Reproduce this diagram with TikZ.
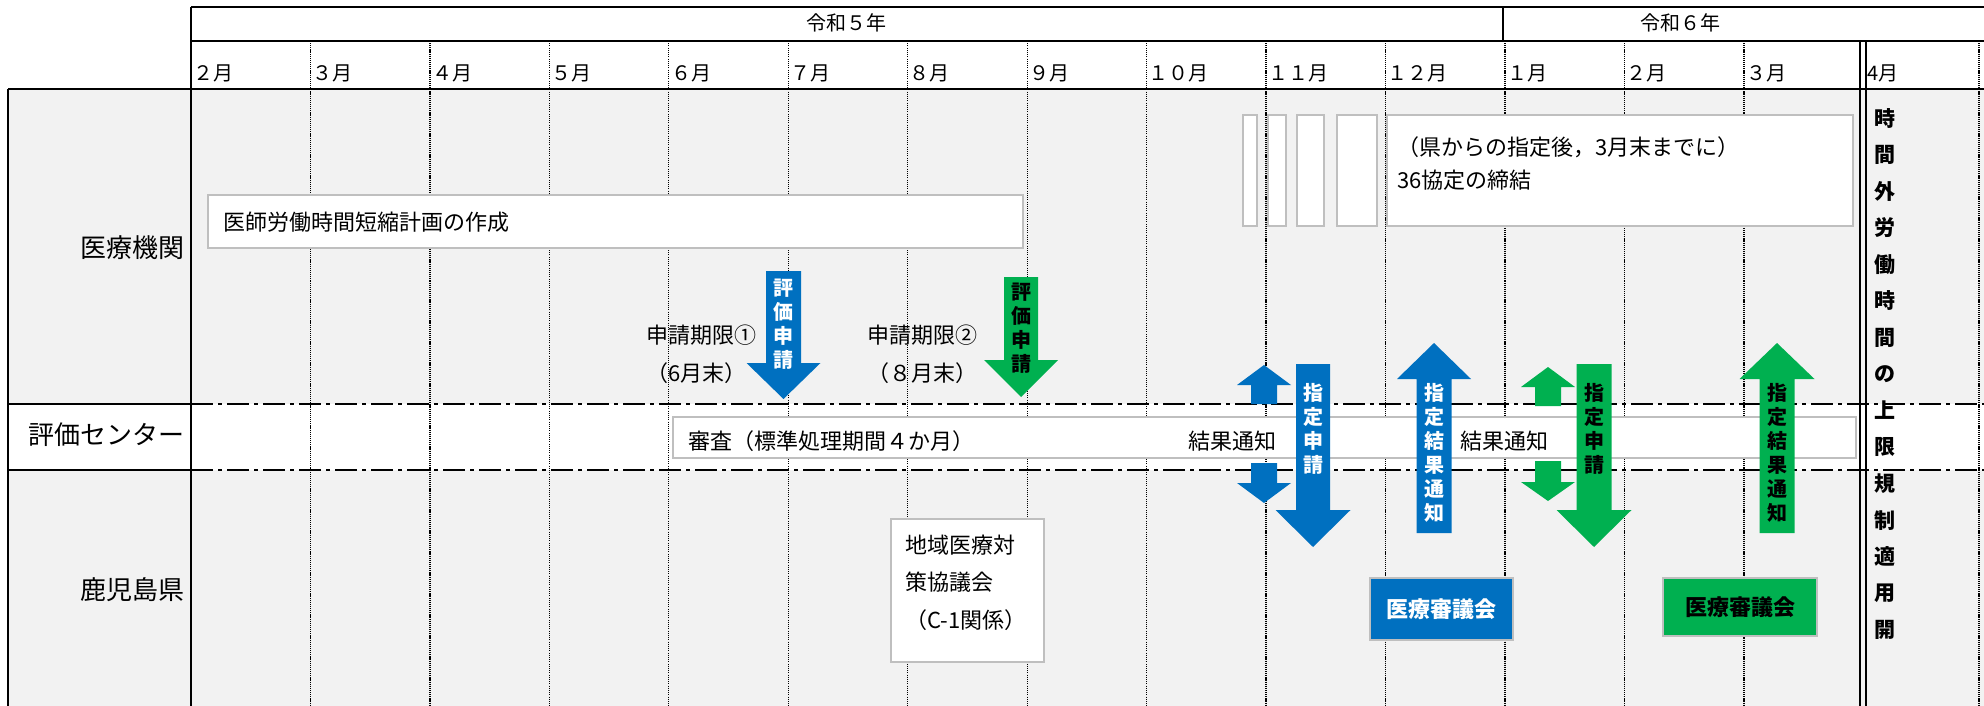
\documentclass[tikz,border=0pt]{standalone}
\usepackage{fontspec}
\setmainfont{Noto Sans CJK JP}
\definecolor{kblue}{HTML}{0070C0}
\definecolor{kgreen}{HTML}{00B050}
\definecolor{lanegray}{HTML}{F2F2F2}
\definecolor{boxgray}{HTML}{BFBFBF}
\tikzset{%
  frame/.style      = {line width=2pt},%
  monthline/.style  = {line width=1pt, dash pattern=on 1pt off 1.2pt},%
  densemonth/.style = {line width=1.6pt, dash pattern=on 1.2pt off 0.9pt},%
  laneline/.style   = {line width=2pt, dash pattern=on 22pt off 5pt on 4pt off 5pt},%
  taskbox/.style    = {draw=boxgray, fill=white, line width=1.2pt},%
  txt/.style        = {inner sep=0pt, anchor=west, font=\fontsize{22}{26}\selectfont},%
  lanelabel/.style  = {inner sep=0pt, anchor=east, font=\fontsize{26}{30}\selectfont},%
  month/.style      = {inner sep=0pt, anchor=west, font=\fontsize{20}{22}\selectfont},%
  year/.style       = {inner sep=0pt, font=\fontsize{20}{22}\selectfont},%
  armtext/.style    = {inner sep=0pt, align=center, font=\bfseries\fontsize{20}{24}\selectfont},%
  vtext/.style      = {inner sep=0pt, font=\bfseries\fontsize{21}{24}\selectfont},%
  council/.style    = {draw=boxgray, line width=1.2pt, inner sep=0pt,%
                       font=\bfseries\fontsize{22}{26}\selectfont}%
}
\newcommand{\blockarrow}[7]{%
  \fill[#1] ({#2-#3},#4) -- ({#2+#3},#4) -- ({#2+#3},#5) -- ({#2+#7},#5) -- (#2,#6)
    -- ({#2-#7},#5) -- ({#2-#3},#5) -- cycle;}

\begin{document}
\begin{tikzpicture}[x=1pt,y=-1pt]
	\useasboundingbox (0,0) rectangle (1984,706);
	\fill[lanegray] (8,89) rectangle (1984,404);
	\fill[lanegray] (8,470) rectangle (1984,706);

	\foreach \i in {3,...,8}
		\draw[monthline] ({191+119.45*\i},41) -- ({191+119.45*\i},706);
	\foreach \i in {1,2,9,10,11,12,13}
		\draw[densemonth] ({191+119.45*\i},41) -- ({191+119.45*\i},706);
	\draw[densemonth] (1979,41) -- (1979,706);

	\draw[laneline] (191,404) -- (1984,404);
	\draw[laneline] (191,470) -- (1984,470);

	\draw[frame] (191,7) -- (1984,7);
	\draw[frame] (191,41) -- (1984,41);
	\draw[frame] (8,89) -- (1984,89);
	\draw[frame] (8,89) -- (8,706);
	\draw[frame] (191,7) -- (191,706);
	\draw[frame] (1503,7) -- (1503,41);
	\draw[frame] (8,404) -- (191,404);
	\draw[frame] (8,470) -- (191,470);
	\draw[frame] (1859.5,41) -- (1859.5,706);
	\draw[frame] (1865.5,41) -- (1865.5,706);

	\node[year] (r5) at (846,23) {令和５年};
	\node[year] (r6) at (1680,23) {令和６年};
	\foreach \m [count=\i from 0] in {２月,３月,４月,５月,６月,７月,８月,９月,１０月,１１月,１２月,１月,２月,３月}
		\node[month] (mon\i) at ({193+119.45*\i},73) {\m};
	\node[month] (mon14) at (1867,73) {4月};

	\node[lanelabel] (iryo) at (185,248) {医療機関};
	\node[lanelabel] (center) at (185,435) {評価センター};
	\node[lanelabel] (ken) at (185,590) {鹿児島県};

	\draw[taskbox] (208,195) rectangle (1023,248);
	\node[txt] (plan) at (223,222) {医師労働時間短縮計画の作成};
	\draw[taskbox] (1243,115) rectangle (1257,226);
	\draw[taskbox] (1268,115) rectangle (1286,226);
	\draw[taskbox] (1297,115) rectangle (1324,226);
	\draw[taskbox] (1337,115) rectangle (1377,226);
	\draw[taskbox] (1387,115) rectangle (1853,226);
	\node[txt] (kyotei1) at (1397,147) {（県からの指定後，3月末までに）};
	\node[txt] (kyotei2) at (1397,180) {36協定の締結};

	\node[txt] (kigen1) at (646,335) {申請期限①};
	\node[txt] (kigen1b) at (646,373) {（6月末）};
	\node[txt] (kigen2) at (867,335) {申請期限②};
	\node[txt] (kigen2b) at (867,373) {（８月末）};

	\draw[taskbox] (673,417) rectangle (1856,458);
	\node[txt] (shinsa) at (688,441) {審査（標準処理期間４か月）};
	\node[txt] (kekka1) at (1188,441) {結果通知};
	\node[txt] (kekka2) at (1460,441) {結果通知};

	\draw[taskbox] (891,519) rectangle (1044,662);
	\node[txt] (chiiki1) at (905,545) {地域医療対};
	\node[txt] (chiiki2) at (905,582) {策協議会};
	\node[txt] (chiiki3) at (905,620) {（C-1関係）};

	\blockarrow{kblue}{783.5}{17.5}{271}{363}{399}{37}
	\blockarrow{kgreen}{1021}{17}{277}{360}{397}{37}
	\blockarrow{kblue}{1264}{13}{404}{385}{365}{27}
	\blockarrow{kblue}{1264}{13}{463}{483}{503}{27}
	\blockarrow{kblue}{1313}{17}{364}{510}{547}{37.5}
	\blockarrow{kblue}{1434}{17.5}{533}{379}{343}{37}
	\blockarrow{kgreen}{1548}{13}{406}{387}{367}{27}
	\blockarrow{kgreen}{1548}{13}{461}{482}{501}{27}
	\blockarrow{kgreen}{1594}{17.5}{364}{510}{547}{37.5}
	\blockarrow{kgreen}{1777}{17.5}{533}{379}{343}{37.5}

	\node[armtext, text=white] (hyoka1) at (783.5,324) {評\\価\\申\\請};
	\node[armtext] (hyoka2) at (1021,328) {評\\価\\申\\請};
	\node[armtext, text=white] (shitei1) at (1313,429) {指\\定\\申\\請};
	\node[armtext, text=white] (tsuchi1) at (1434,453) {指\\定\\結\\果\\通\\知};
	\node[armtext] (shitei2) at (1594,429) {指\\定\\申\\請};
	\node[armtext] (tsuchi2) at (1777,453) {指\\定\\結\\果\\通\\知};

	\node[council, fill=kblue, text=white, minimum width=143pt, minimum height=62pt] (shingi1) at (1441.5,609) {医療審議会};
	\node[council, fill=kgreen, minimum width=154pt, minimum height=58pt] (shingi2) at (1740,607) {医療審議会};

	\foreach \c [count=\i from 0] in {時,間,外,労,働,時,間,の,上,限,規,制,適,用,開}
		\node[vtext] (lim\i) at (1885,{118+36.57*\i}) {\c};
\end{tikzpicture}
\end{document}
